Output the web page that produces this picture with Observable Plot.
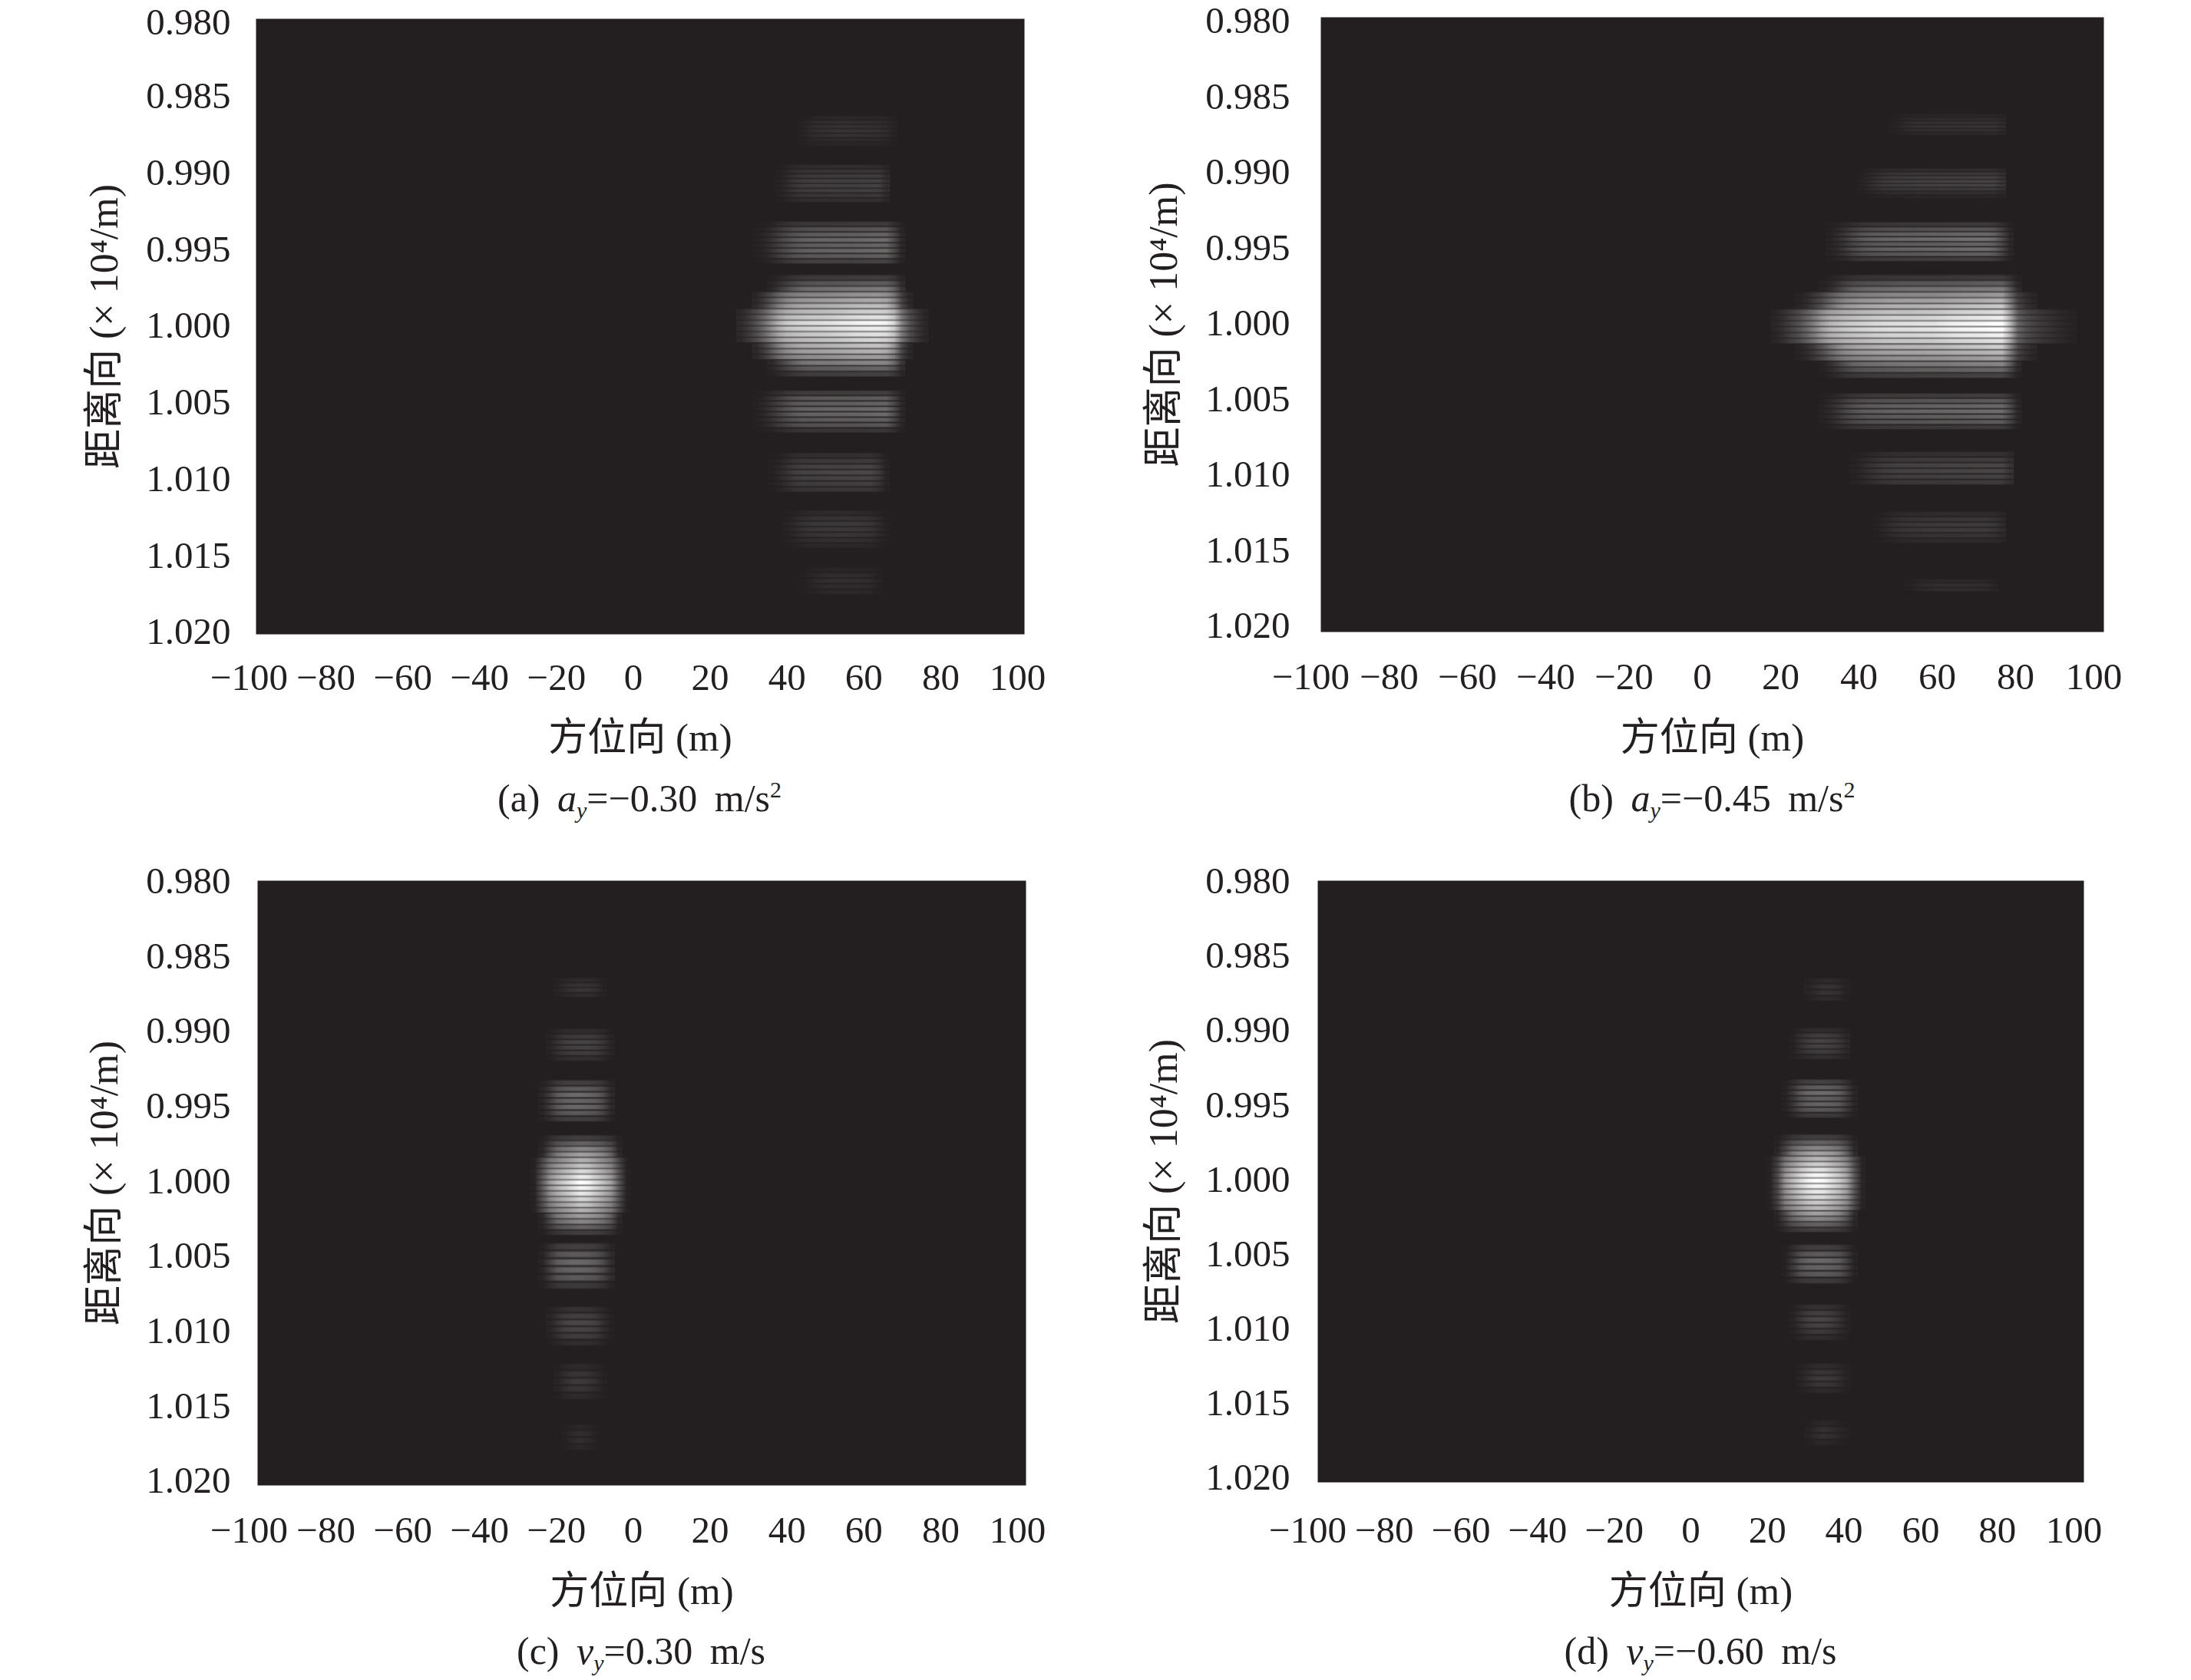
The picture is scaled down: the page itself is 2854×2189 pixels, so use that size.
<!DOCTYPE html>
<html><head><meta charset="utf-8">
<script src="https://cdn.jsdelivr.net/npm/d3@7"></script>
<script src="https://cdn.jsdelivr.net/npm/@observablehq/plot@0.6"></script>
<style>
html,body{margin:0;background:#fff;}
#page{position:relative;width:2854px;height:2189px;overflow:hidden;font-family:"Liberation Serif","Noto Sans CJK SC",serif;color:#231f20;}
#page svg{position:absolute;background:transparent;overflow:visible;}
.cap{position:absolute;font-size:50px;line-height:54px;white-space:pre;word-spacing:10px;transform:translateX(-50%);}
.cap sub{font-size:30px;line-height:0;vertical-align:-9px;}
.cap sup{font-size:30px;line-height:0;vertical-align:18px;}
</style></head><body><div id="page"></div>
<script>
// axis text
const xTicks=[-100,-80,-60,-40,-20,0,20,40,60,80,100];
const yTicks=[0.980,0.985,0.990,0.995,1.000,1.005,1.010,1.015,1.020];
const xTitle="方位向 (m)";
const yTitle="距离向 (× 10⁴/m)";
const colStep=2; // metres per image column in the lobes below
const stripeShape=[0,0.5,1,1,1,1,0.95,0.5];
const gapWide=[0.2,0.18,0.15,0.35,0.4,0.45,0.4,0.35,0.15,0.18,0.2,0.2];
const gapNarrow=[0.2,0.18,0.15,0.38,0.45,0.38,0.15,0.18,0.2,0.2];

// panel (a) a_y = -0.30 m/s²  — lobes top to bottom (main lobe split in five tiers)
const aDomainX=[-100,100], aDomainY=[0.97992,1.02015];
const aTop=[0.98623,0.98940,0.99312,0.99663,0.99774,0.99885,1.00108,1.00219,1.00417,1.00824,1.01201,1.01573];
const aBottom=[0.98824,0.99191,0.99593,0.99774,0.99885,1.00108,1.00219,1.00331,1.00698,1.01085,1.01452,1.01754];
const aX0=[42,36,30,34,30,26,30,34,30,34,38,42];
const aWeights=[
[20,55,80,90,95,100,100,95,95,90,85,70,25],
[12,35,65,82,88,90,92,94,95,95,95,98,100,100,45],
[4,10,24,45,62,76,84,88,90,90,92,92,92,94,96,98,100,100,60,12],
[8,26,46,64,76,82,84,85,86,88,90,92,94,95,96,94,70,20],
[6,18,36,56,70,78,82,84,85,86,88,90,92,94,95,96,96,92,70,26,6],
[5,12,22,34,50,66,76,80,82,84,85,86,88,90,92,94,95,96,96,94,82,45,24,12,4],
[6,18,36,56,70,78,82,84,85,86,88,90,92,94,95,96,96,92,70,26,6],
[8,26,46,64,76,82,84,85,86,88,90,92,94,95,96,94,70,20],
[4,12,28,48,66,80,88,90,90,92,92,92,92,94,96,98,100,100,62,12],
[8,22,50,76,88,90,92,94,96,96,96,98,100,100,70,15],
[15,40,70,85,92,95,95,100,100,95,90,80,45,12],
[10,40,70,90,100,100,95,95,90,75,25]];
const aLevels=[
[4,7,8,9,8,5,3],
[6,10,13,15,15,14,11,7],
[12,24,30,34,31,33,28,16],
[14,28,42],
[54,64,74],
[82,90,100,96,90,84],
[76,68,58],
[48,32,16],
[14,27,30,33,33,28,24,10],
[7,12,16,18,16,14,10],
[5,9,12,11,10,7,4],
[3,6,7,6,4]];

// panel (b) a_y = -0.45 m/s²
const bDomainX=[-100,100], bDomainY=[0.97975,1.0204];
const bTop=[0.98610,0.98970,0.99325,0.99675,0.99789,0.99903,1.00133,1.00247,1.00457,1.00843,1.01239,1.01686];
const bBottom=[0.98757,0.99173,0.99589,0.99789,0.99903,1.00133,1.00247,1.00361,1.00701,1.01066,1.01452,1.01772];
const bX0=[46,38,30,28,22,16,22,28,28,36,42,50];
const bWeights=[
[15,40,70,82,88,90,92,94,95,96,96,98,100,100,60],
[10,30,55,72,80,84,86,88,90,90,92,92,92,94,96,98,100,100,60],
[6,18,35,55,70,78,82,85,86,88,88,90,90,92,92,94,96,98,100,100,100,90,55,12],
[4,14,32,52,66,72,76,78,80,82,84,85,86,86,86,87,88,90,92,94,95,96,98,100,60,12],
[3,8,18,30,46,60,70,74,78,80,82,84,85,86,86,86,87,88,88,90,92,94,95,96,98,100,100,62,24,12,5],
[3,8,15,22,32,44,58,68,72,76,78,80,82,84,85,86,86,86,87,88,88,90,92,94,95,96,97,98,100,100,70,32,22,16,12,9,6,4,2],
[3,8,18,30,46,60,70,74,78,80,82,84,85,86,86,86,87,88,88,90,92,94,95,96,98,100,100,62,24,12,5],
[4,14,32,52,66,72,76,78,80,82,84,85,86,86,86,87,88,90,92,94,95,96,98,100,60,12],
[6,16,32,52,66,76,82,84,86,88,88,88,90,90,92,92,92,94,94,96,98,100,100,100,62,12],
[10,26,46,64,76,84,88,90,90,92,92,94,94,94,96,96,98,100,100,100,55],
[12,34,58,76,86,90,92,94,95,96,96,98,100,100,100,85,45],
[18,50,76,92,100,100,100,100,95,90,80,35]];
const bLevels=[
[3,6,8,9,7,4],
[6,11,14,16,16,12,7,3],
[12,24,32,36,30,34,28,14],
[12,28,42],
[54,66,76],
[84,92,100,100,94,86],
[78,68,58],
[46,32,16],
[14,26,32,34,30,26,12],
[8,13,17,17,15,12],
[6,10,12,12,9,5],
[4,7,6]];

// panel (c) v_y = 0.30 m/s
const cDomainX=[-100,100], cDomainY=[0.97995,1.0203];
const cTop=[0.98640,0.98978,0.99321,0.99690,0.99839,1.00211,1.00407,1.00831,1.01210,1.01615];
const cBottom=[0.98773,0.99198,0.99603,0.99839,1.00211,1.00360,1.00719,1.01098,1.01456,1.01794];
const cX0=[-22,-24,-26,-26,-28,-26,-26,-24,-22,-20];
const cWeights=[
[20,60,85,100,95,70,20],
[15,55,85,95,100,100,90,60,15],
[8,40,80,95,100,100,95,85,60,15],
[6,40,70,82,92,100,96,88,76,50,8],
[2,26,55,70,80,90,100,96,84,72,58,26,2],
[6,40,70,82,92,100,96,88,76,50,8],
[8,45,85,95,100,100,95,85,60,20],
[15,55,88,100,100,95,80,40,8],
[20,65,95,100,85,55,15],
[20,70,100,70,20]];
const cLevels=[
[5,9,10,6],
[6,12,16,15,13,7],
[14,26,33,30,32,26,14],
[14,30,46,58],
[66,74,84,92,100,96,90,82,74,66],
[56,46,30,14],
[14,26,32,30,26,12],
[8,14,18,16,13,6],
[5,10,12,10,5],
[4,7,7,4]];

// panel (d) v_y = -0.60 m/s
const dDomainX=[-100,100], dDomainY=[0.97995,1.02031];
const dTop=[0.98644,0.98978,0.99323,0.99694,0.99840,1.00207,1.00430,1.00832,1.01228,1.01609];
const dBottom=[0.98803,0.99194,0.99586,0.99840,1.00207,1.00353,1.00698,1.01079,1.01434,1.01784];
const dX0=[28,24,22,20,18,20,22,24,26,28];
const dWeights=[
[25,70,100,95,70,20],
[10,50,85,100,100,90,70,30],
[5,35,75,95,100,100,95,85,50,10],
[6,35,68,84,95,100,96,90,78,50,10],
[2,20,55,70,84,95,100,98,88,78,62,28,3],
[6,35,68,84,95,100,96,90,78,50,10],
[6,40,80,95,100,100,95,85,50,8],
[12,55,90,100,100,85,55,15],
[20,60,95,100,90,60,20],
[25,75,100,80,50,15]];
const dLevels=[
[5,9,9,5],
[6,13,16,15,13,7],
[15,27,34,28,30,24,12],
[14,30,46,60],
[68,78,88,96,100,96,90,84,76,68],
[58,46,30,14],
[14,26,32,30,26,12],
[8,14,17,15,11,6],
[6,10,12,10,5],
[4,8,8,4]];

const panels=[
 {left:0,top:0,w:1427,h:1100,fl:333,fr:1334,ft:24,fb:826,dx:-9,xtp:38,firstDy:3,G:gapWide,xd:aDomainX,yd:aDomainY,T:aTop,B:aBottom,X:aX0,W:aWeights,L:aLevels,
  ax:833,capY:1013,cap:'(a) <i>a<sub>y</sub></i>=−0.30 m/s<sup>2</sup>',ylx:136,tickR:300,xty:135},
 {left:1427,top:0,w:1427,h:1100,fl:1720,fr:2740,ft:22,fb:823,dx:-13,xtp:40,firstDy:0,G:gapWide,xd:bDomainX,yd:bDomainY,T:bTop,B:bBottom,X:bX0,W:bWeights,L:bLevels,
  ax:2230,capY:1013,cap:'(b) <i>a<sub>y</sub></i>=−0.45 m/s<sup>2</sup>',ylx:1516,tickR:1680,xty:138},
 {left:0,top:1100,w:1427,h:1089,fl:335,fr:1336,ft:1147,fb:1935,dx:-11,xtp:40,firstDy:0,G:gapNarrow,xd:cDomainX,yd:cDomainY,T:cTop,B:cBottom,X:cX0,W:cWeights,L:cLevels,
  ax:835,capY:2124,cap:'(c) <i>v<sub>y</sub></i>=0.30 m/s',ylx:136,tickR:300,xty:138},
 {left:1427,top:1100,w:1427,h:1089,fl:1716,fr:2714,ft:1147,fb:1931,dx:-13,xtp:44,firstDy:0,G:gapNarrow,xd:dDomainX,yd:dDomainY,T:dTop,B:dBottom,X:dX0,W:dWeights,L:dLevels,
  ax:2215,capY:2124,cap:'(d) <i>v<sub>y</sub></i>=−0.60 m/s',ylx:1516,tickR:1680,xty:142}
];

const page=document.getElementById("page");
for(const p of panels){
  const rasters=p.L.map((levels,i)=>{
    const cols=p.W[i], rows=levels.length*stripeShape.length, values=[];
    const g=p.G[i];
    levels.forEach(l=>stripeShape.forEach(s=>{
      const f=g+(1-g)*s;
      cols.forEach(c=>values.push(l*f*c/100));
    }));
    return Plot.raster(values,{
      width:cols.length,height:rows,
      x1:p.X[i]-colStep/2,x2:p.X[i]+colStep*(cols.length-0.5),
      y1:p.T[i],y2:p.B[i],fill:d=>d
    });
  });
  const yAxis=(ticks,dy)=>Plot.axisY(ticks,{anchor:"left",tickSize:0,tickPadding:p.fl-p.tickR,fontSize:49,fill:"#231f20",dy,
        tickFormat:d3.format(".3f"),label:null});
  const chart=Plot.plot({
    width:p.w,height:p.h,
    marginLeft:p.fl-p.left,marginRight:p.left+p.w-p.fr,marginTop:p.ft-p.top,marginBottom:p.top+p.h-p.fb,
    x:{domain:p.xd},
    y:{domain:p.yd,reverse:true},
    color:{type:"linear",domain:[0,100],range:["#231f20","#ffffff"]},
    style:{fontFamily:'"Liberation Serif","Noto Sans CJK SC",serif',fontSize:"49px",color:"#231f20",background:"transparent"},
    marks:[
      Plot.frame({fill:"#231f20",stroke:null}),
      ...rasters,
      Plot.axisX(xTicks,{anchor:"bottom",tickSize:0,tickPadding:p.xtp,dx:p.dx,fontSize:49,fill:"#231f20",label:null}),
      yAxis(yTicks.slice(0,1),p.firstDy),
      yAxis(yTicks.slice(1),0),
      Plot.text([xTitle],{frameAnchor:"bottom",lineAnchor:"middle",dy:p.xty,fontSize:51,fill:"#231f20"}),
      Plot.text([yTitle],{frameAnchor:"left",lineAnchor:"middle",textAnchor:"middle",rotate:-90,dx:p.ylx-p.fl,fontSize:52,fill:"#231f20"})
    ]
  });
  chart.style.left=p.left+"px";chart.style.top=p.top+"px";
  page.appendChild(chart);
  const c=document.createElement("div");
  c.className="cap";c.style.left=p.ax+"px";c.style.top=p.capY+"px";c.innerHTML=p.cap;
  page.appendChild(c);
}
</script></body></html>
